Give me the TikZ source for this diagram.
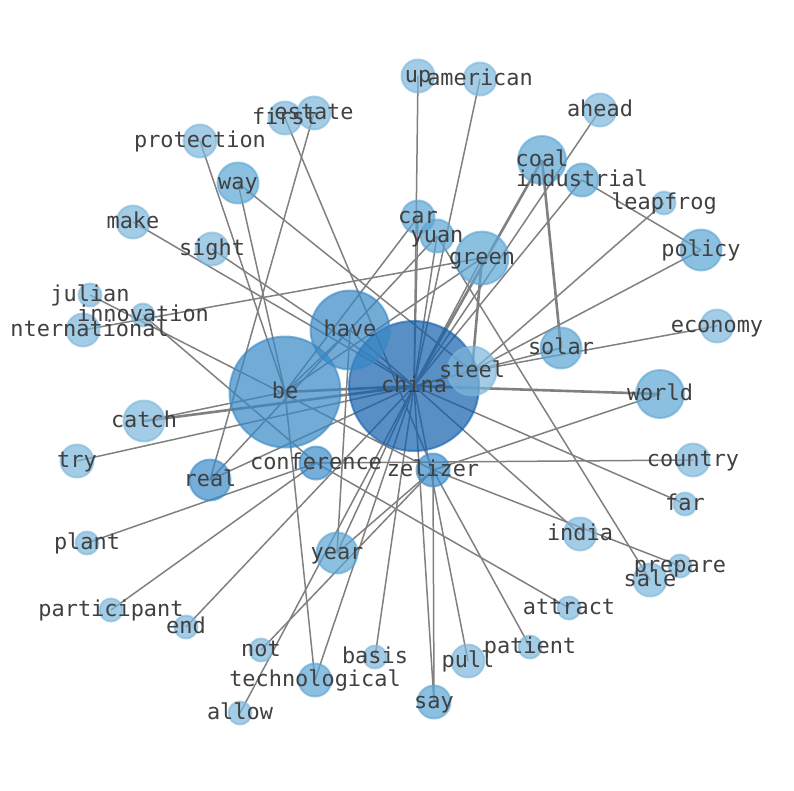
\documentclass[tikz,border=0pt]{standalone}
\usepackage{fontspec}
\setmonofont{DejaVu Sans Mono}
\definecolor{nlight}{RGB}{124,182,219}
\definecolor{nmid}{RGB}{91,165,212}
\definecolor{ndark}{RGB}{59,139,199}
\definecolor{nbig}{RGB}{55,136,198}
\definecolor{nhub}{RGB}{19,95,172}
\pgfdeclarelayer{edges}
\pgfdeclarelayer{labels}
\pgfsetlayers{edges,main,labels}
\tikzset{
  wnode/.style 2 args={circle,inner sep=0pt,minimum size=#1,fill=#2,draw=#2,
    fill opacity=0.7,draw opacity=0.6,line width=2pt},
  wedge/.style={gray,line width=1.5pt},
  wthick/.style={gray,line width=2.6pt},
  wlbl/.style={anchor=base,yshift=-6.5pt,inner sep=0pt,text=black!75,
    font=\ttfamily\fontsize{21.9}{26}\selectfont}
}
\begin{document}
\begin{tikzpicture}[x=1pt,y=-1pt]
\useasboundingbox (0,0) rectangle (794,790);
% words: name/x/y/size/colour
\foreach \n/\x/\y/\d/\c in {china/414/386/130/nhub, be/285/392/111/nbig,
  have/350/330/79/nbig, steel/472/371/49/nlight, green/482/258/53/nmid,
  coal/542/160/48/nmid, world/660/394/48/nmid, policy/701/250/41/nmid,
  solar/561/348/41/nmid, way/238/183/41/nmid, real/210/480/41/ndark,
  year/337/553/41/nmid, catch/144/421/41/nlight, conference/316/463/33/ndark,
  zelizer/433/470/33/ndark, say/434/702/33/nmid, technological/315/680/33/nmid,
  car/418/217/33/nmid, yuan/437/236/33/nmid, industrial/582/180/33/nmid,
  up/418/76/33/nlight, american/480/79/33/nlight, ahead/600/110/33/nlight,
  economy/717/326/33/nlight, country/693/460/33/nlight, india/580/534/33/nlight,
  sale/650/580/33/nlight, pull/468/661/33/nlight, try/77/461/33/nlight,
  international/83/330/33/nlight, make/133/222/33/nlight, sight/212/249/33/nlight,
  protection/200/141/33/nlight, first/285/118/33/nlight, estate/314/113/33/nlight,
  leapfrog/664/203/23/nlight, far/685/504/23/nlight, prepare/680/566/23/nlight,
  attract/569/608/23/nlight, patient/530/647/23/nlight, basis/375/657/23/nlight,
  not/261/650/23/nlight, allow/240/713/23/nlight, end/186/627/23/nlight,
  participant/111/610/23/nlight, plant/87/543/23/nlight,
  innovation/143/315/23/nlight, julian/90/295/23/nlight}
  \node[wnode={\d}{\c}] (\n) at (\x,\y) {};
\begin{pgfonlayer}{edges}
% heavy links
\foreach \a/\b in {china/be, china/world, china/coal, coal/solar, green/steel, catch/china}
  \draw[wthick] (\a.center) -- (\b.center);
% other links
\foreach \a/\b in {china/up, china/american, china/ahead, china/industrial, china/green,
  china/yuan, china/car, china/have, china/steel, china/far, china/india, china/say,
  china/pull, china/basis, china/year, china/allow, china/technological, china/end,
  china/try, china/make, china/sight, china/real, be/way, be/protection,
  be/technological, be/have, be/catch, be/green, be/car, real/estate, real/yuan,
  have/year, yuan/sale, green/international, industrial/policy, steel/policy,
  steel/economy, steel/solar, steel/leapfrog, steel/way, zelizer/world, zelizer/first,
  zelizer/julian, zelizer/prepare, zelizer/say, zelizer/patient, zelizer/year,
  zelizer/not, conference/country, conference/plant, conference/participant,
  conference/attract, conference/innovation}
  \draw[wedge] (\a.center) -- (\b.center);
\end{pgfonlayer}
\begin{pgfonlayer}{labels}
\begin{scope}
\clip (9,0) rectangle (794,790);
\foreach \n in {china, be, have, steel, green, coal, world, policy, solar, way, real,
  year, catch, conference, zelizer, say, technological, car, yuan, industrial, up,
  american, ahead, economy, country, india, sale, pull, try, international, make,
  sight, protection, first, estate, leapfrog, far, prepare, attract, patient, basis,
  not, allow, end, participant, plant, innovation, julian}
  \node[wlbl] (\n-t) at (\n) {\n};
\end{scope}
\end{pgfonlayer}
\end{tikzpicture}
\end{document}
